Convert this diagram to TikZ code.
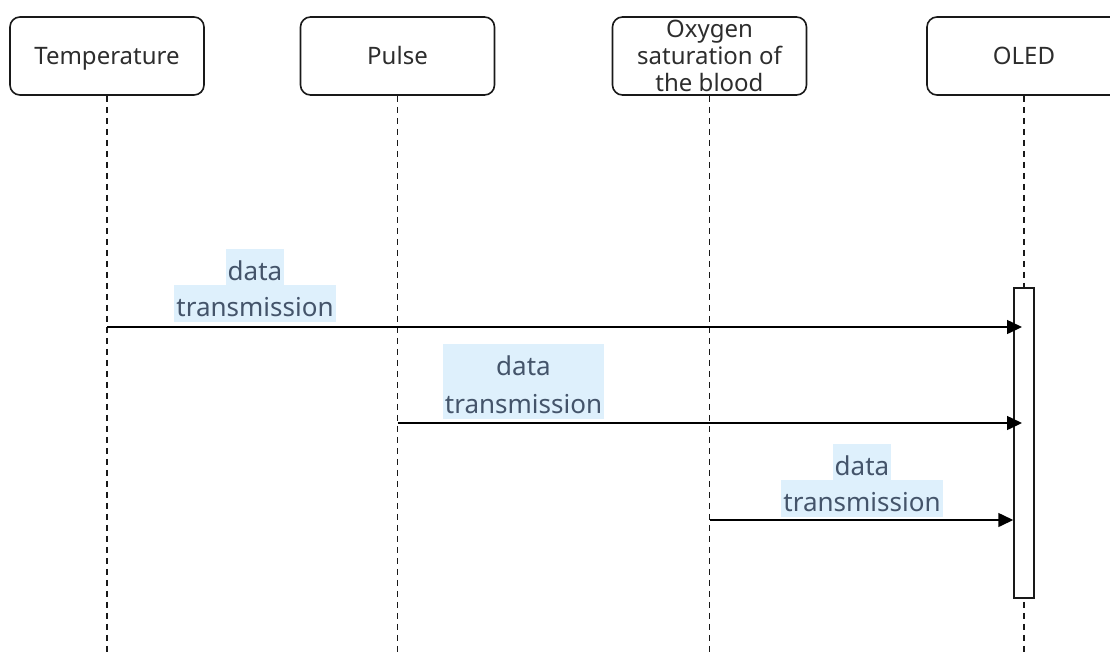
\documentclass[tikz,border=0pt]{standalone}
\usepackage{fontspec}
\setmainfont{Noto Sans}
\usetikzlibrary{arrows.meta,calc}
\definecolor{lblfill}{RGB}{222,240,252}
\definecolor{lbltext}{RGB}{68,84,106}
\definecolor{boxtext}{RGB}{45,45,45}
\tikzset{
  actor/.style={draw=black!90, line width=1.6pt, rounded corners=10pt,
    minimum width=194pt, minimum height=78pt, inner sep=0pt, text=boxtext,
    font=\fontsize{24}{27}\selectfont, align=center},
  oneline/.style={text height=20pt, text depth=4pt},
  life/.style={draw=black!90, line width=1.3pt, dash pattern=on 6.5pt off 4.5pt},
  actbar/.style={draw=black!90, line width=1.5pt, fill=white,
    minimum width=20pt, minimum height=310pt, inner sep=0pt},
  msg/.style={draw=black, line width=1.5pt, -{Triangle[length=15pt,width=14pt]}},
  lblline/.style={fill=lblfill, text=lbltext, font=\fontsize{26}{30}\selectfont,
    inner xsep=2pt, inner ysep=0pt, text height=32pt, text depth=5pt, anchor=south},
  lblblock/.style={fill=lblfill, text=lbltext, font=\fontsize{26}{38}\selectfont,
    align=center, inner xsep=2pt, inner ysep=0pt, anchor=south},
}
\begin{document}
\begin{tikzpicture}[x=1pt,y=-1pt]
  \useasboundingbox (0,0) rectangle (1110,653);
  \clip (0,0) rectangle (1110,653);

  % participants
  \node[actor, oneline] (temp)  at (107,56)   {Temperature};
  \node[actor, oneline] (pulse) at (397.5,56) {Pulse};
  \node[actor] (oxy)   at (709.5,56) {\raisebox{-2pt}{Oxygen}\\\raisebox{-2pt}{saturation of}\\\raisebox{-2pt}{the blood}};
  \node[actor, oneline] (oled)  at (1024,56)  {OLED};

  % lifeline ends
  \coordinate (tempE)  at (temp  |- 0,653);
  \coordinate (pulseE) at (pulse |- 0,653);
  \coordinate (oxyE)   at (oxy   |- 0,653);
  \coordinate (oledE)  at (oled  |- 0,653);

  \draw[life] (temp.south)  -- (tempE);
  \draw[life] (pulse.south) -- (pulseE);
  \draw[life] (oxy.south)   -- (oxyE);
  \draw[life] (oled.south)  -- (oledE);

  % activation of the display
  \node[actbar] (act) at (1024,443) {};

  % messages
  \coordinate (m1) at (temp  |- 0,327);
  \coordinate (m2) at (pulse |- 0,423);
  \coordinate (m3) at (oxy   |- 0,520);
  \draw[msg, shorten >=2pt] (m1) -- (m1 -| act.center);
  \draw[msg, shorten >=2pt] (m2) -- (m2 -| act.center);
  \draw[msg] (m3) -- (m3 -| act.west);

  % message labels
  \node[lblline] (l1a) at (255,286) {data};
  \node[lblline] (l1b) at (255,322) {transmission};
  \node[lblblock] (l2) at (523.5,419)
    {\rule{0pt}{32pt}data\\transmission\rule[-5pt]{0pt}{5pt}};
  \node[lblline] (l3a) at (862,481) {data};
  \node[lblline] (l3b) at (862,517) {transmission};
\end{tikzpicture}
\end{document}
